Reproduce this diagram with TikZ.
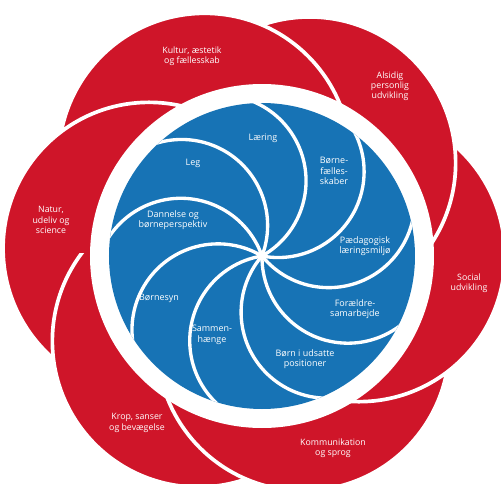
\documentclass[tikz,border=0pt]{standalone}
\usepackage{fontspec}
\setmainfont{Open Sans}
\usepackage{xcolor}
\usetikzlibrary{calc}

\definecolor{petalred}{RGB}{207,21,41}
\definecolor{swirlblue}{RGB}{23,115,181}

\begin{document}
\begin{tikzpicture}[x=0.02cm,y=0.02cm,
    petal/.style={fill=petalred,draw=white,line width=2.1pt},
    swirl/.style={draw=white,line width=1.9pt},
    redlabel/.style={text=white,align=center,inner sep=0pt,font=\fontsize{5}{5.8}\selectfont},
    bluelabel/.style={text=white,align=center,inner sep=0pt,font=\fontsize{5.1}{5.9}\selectfont}]
    \useasboundingbox (-262,-228) rectangle (239,256);

    % centre of the red flower, a little up and left of the disc
    \coordinate (F) at (-8,4);

    % red petals, each one over its clockwise neighbour
    \foreach \ang in {178,-122,-62,-2,58,118}
        \filldraw[petal] ($(F)+(\ang:105)$) circle (146);
    \begin{scope}
        \clip (-300,4) rectangle (300,300);
        \filldraw[petal] ($(F)+(178:105)$) circle (146);
    \end{scope}

    % white ring and blue disc
    \fill[white] (0,0) circle (172);
    \fill[swirlblue] (0,0) circle (153);

    % white swirl lines from the centre
    \begin{scope}
        \clip (0,0) circle (153);
        \foreach \k in {0,...,8}
            \draw[swirl] (0,0) arc[start angle={-20.8+40*\k}, delta angle=130, radius=86];
    \end{scope}

    % outer labels
    \node[redlabel] (kultur) at (-70,200) {Kultur, æstetik\\og fællesskab};
    \node[redlabel] (alsidig) at (128,170) {Alsidig\\personlig\\udvikling};
    \node[redlabel] (social) at (207,-27) {Social\\udvikling};
    \node[redlabel] (kommunikation) at (71,-192) {Kommunikation\\og sprog};
    \node[redlabel] (krop) at (-125,-167) {Krop, sanser\\og bevægelse};
    \node[redlabel] (natur) at (-211,36) {Natur,\\udeliv og\\science};

    % inner labels
    \node[bluelabel] (laering) at (1,118) {Læring};
    \node[bluelabel] (leg) at (-69,93) {Leg};
    \node[bluelabel] (faellesskaber) at (72,85) {Børne-\\fælles-\\skaber};
    \node[bluelabel] (dannelse) at (-89,36) {Dannelse og\\børneperspektiv};
    \node[bluelabel] (paedagogisk) at (103,10) {Pædagogisk\\læringsmiljø};
    \node[bluelabel] (foraeldre) at (93,-53) {Forældre-\\samarbejde};
    \node[bluelabel] (boernesyn) at (-103,-42) {Børnesyn};
    \node[bluelabel] (sammenhaenge) at (-50,-79) {Sammen-\\hænge};
    \node[bluelabel] (udsatte) at (43,-103) {Børn i udsatte\\positioner};
\end{tikzpicture}
\end{document}
